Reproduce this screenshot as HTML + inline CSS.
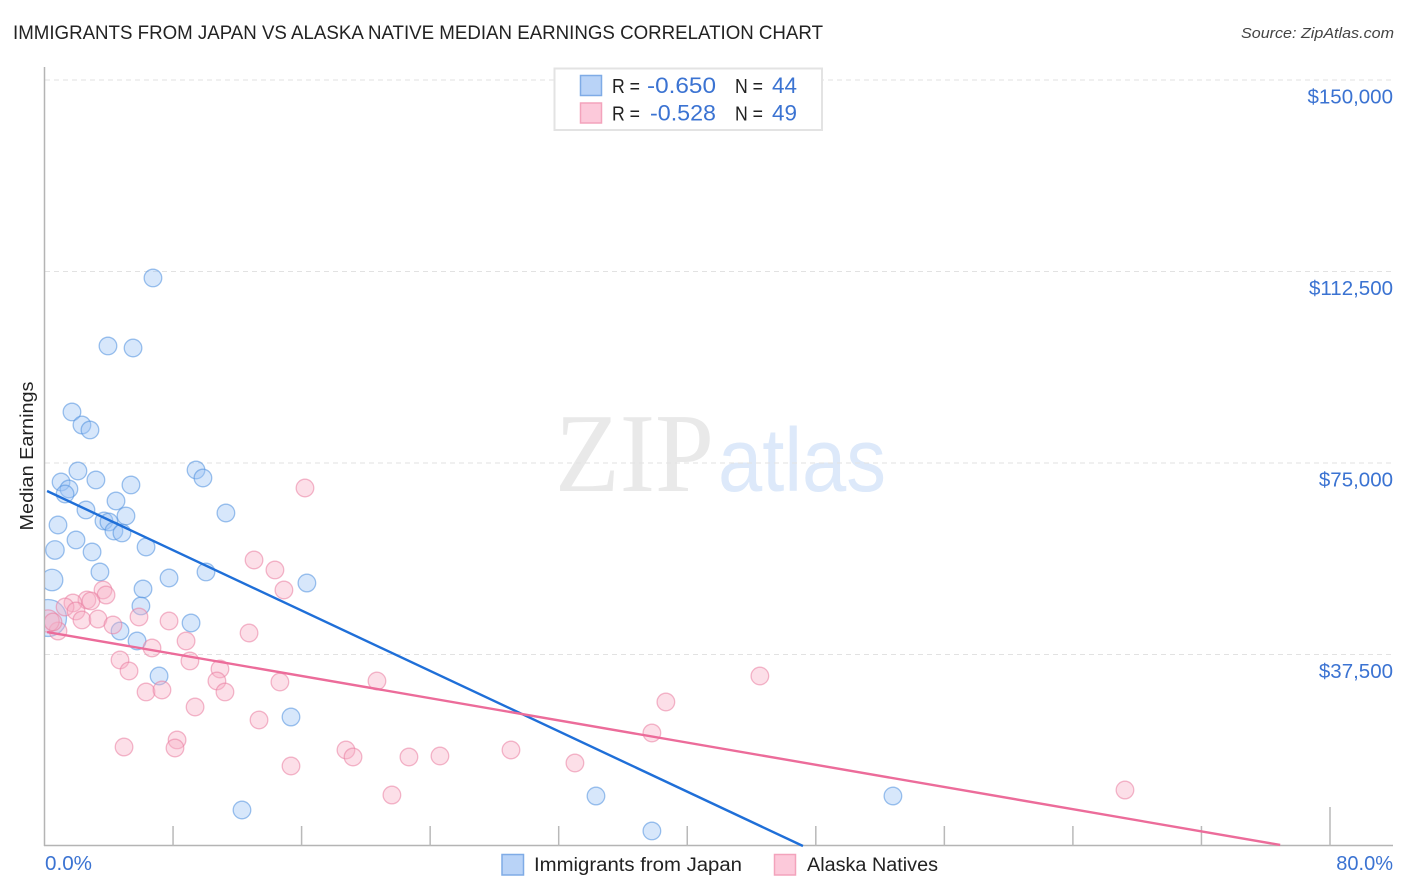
<!DOCTYPE html>
<html lang="en">
<head>
<meta charset="utf-8">
<title>Immigrants from Japan vs Alaska Native Median Earnings Correlation Chart</title>
<style>
html,body{margin:0;padding:0;background:#fff;}
svg{display:block;font-family:"Liberation Sans",sans-serif;}
</style>
</head>
<body>
<svg id="chart" xmlns="http://www.w3.org/2000/svg" width="1406" height="892" viewBox="0 0 1406 892">
  <defs><clipPath id="plot-clip"><rect x="45" y="60" width="1350" height="786"/></clipPath></defs>
  <text x="13" y="39" font-size="19.5" fill="#222" textLength="810" lengthAdjust="spacingAndGlyphs">IMMIGRANTS FROM JAPAN VS ALASKA NATIVE MEDIAN EARNINGS CORRELATION CHART</text>
  <text x="1241" y="38" font-size="15" font-style="italic" fill="#444" textLength="153" lengthAdjust="spacingAndGlyphs">Source: ZipAtlas.com</text>
  <g>
    <text x="555" y="491" font-family="'Liberation Serif',serif" font-size="112" fill="#e9e9e9" textLength="159" lengthAdjust="spacingAndGlyphs">ZIP</text>
    <text x="718" y="491" font-size="90" fill="#dde9fa" textLength="168" lengthAdjust="spacingAndGlyphs">atlas</text>
  </g>
  <g id="grid"></g>
  <g id="axes"></g>
  <text transform="translate(33,456) rotate(-90)" text-anchor="middle" font-size="18.5" fill="#222" textLength="149" lengthAdjust="spacingAndGlyphs">Median Earnings</text>
  <g id="points" clip-path="url(#plot-clip)"></g>
  <g id="trends"></g>
  <g>
    <rect x="554.5" y="68.5" width="267.5" height="61.5" fill="#fff" stroke="#e3e3e3" stroke-width="2"/>
    <rect x="580.5" y="75.5" width="21" height="20" fill="#b9d3f7" stroke="#7fabe6" stroke-width="1.5"/>
    <rect x="580.5" y="103" width="21" height="20" fill="#fcc9da" stroke="#f3a3bc" stroke-width="1.5"/>
    <text x="612" y="93" font-size="20" fill="#222" textLength="28" lengthAdjust="spacingAndGlyphs">R =</text>
    <text x="647" y="93" font-size="22" fill="#3b73d2" textLength="69" lengthAdjust="spacingAndGlyphs">-0.650</text>
    <text x="735" y="93" font-size="20" fill="#222" textLength="28" lengthAdjust="spacingAndGlyphs">N =</text>
    <text x="772" y="93" font-size="22" fill="#3b73d2" textLength="25" lengthAdjust="spacingAndGlyphs">44</text>
    <text x="612" y="120.5" font-size="20" fill="#222" textLength="28" lengthAdjust="spacingAndGlyphs">R =</text>
    <text x="650" y="120.5" font-size="22" fill="#3b73d2" textLength="66" lengthAdjust="spacingAndGlyphs">-0.528</text>
    <text x="735" y="120.5" font-size="20" fill="#222" textLength="28" lengthAdjust="spacingAndGlyphs">N =</text>
    <text x="772" y="120.5" font-size="22" fill="#3b73d2" textLength="25" lengthAdjust="spacingAndGlyphs">49</text>
  </g>
  <g>
    <rect x="502" y="854.5" width="21.5" height="20.5" fill="#b9d3f7" stroke="#7fabe6" stroke-width="1.5"/>
    <text x="534" y="871" font-size="19" fill="#222" textLength="208" lengthAdjust="spacingAndGlyphs">Immigrants from Japan</text>
    <rect x="774.5" y="854.5" width="21" height="20.5" fill="#fcc9da" stroke="#f3a3bc" stroke-width="1.5"/>
    <text x="807" y="871" font-size="19" fill="#222" textLength="131" lengthAdjust="spacingAndGlyphs">Alaska Natives</text>
  </g>
</svg>
<script>
var yTickValues = [150000, 112500, 75000, 37500];
var yTickLabels = ["$150,000", "$112,500", "$75,000", "$37,500"];
var xTickValues = [8, 16, 24, 32, 40, 48, 56, 64, 72, 80];
var xEndLabels = ["0.0%", "80.0%"];

var japanX = [6.75,3.95,5.51,1.71,2.33,2.83,2.08,9.43,9.86,1.03,1.52,1.28,3.20,5.38,4.45,2.58,11.29,5.07,3.70,4.01,4.32,4.82,0.84,1.96,6.32,2.96,0.65,3.45,10.05,7.75,16.33,6.13,0.47,6.00,9.12,4.70,5.76,7.13,15.34,12.29,34.32,37.80,52.80,0.22];
var japanY = [111230,97915,97520,84990,82440,81465,73435,73630,72065,71280,69910,68930,71675,70695,67560,65800,65210,64625,63645,63450,61685,61295,62860,59925,58550,57575,57965,53660,53660,52480,51500,50330,52090,47000,43670,42100,40145,33290,25260,7050,9790,2940,9790,44650];
var japanWeight = [1,1,1,1,1,1,1,1,1,1,1,1,1,1,1,1,1,1,1,1,1,1,1,1,1,1,1.1,1,1,1,1,1,1.5,1,1,1,1,1,1,1,1,1,1,4.4];

var alaskaX = [16.21,13.04,14.34,14.90,3.64,3.83,2.64,2.89,1.77,1.28,1.96,2.33,3.33,4.26,5.88,7.75,0.84,0.22,0.53,8.81,12.73,6.69,4.70,5.26,9.05,10.92,10.73,11.23,14.65,6.32,7.31,9.37,20.69,44.52,38.67,37.80,13.35,8.25,4.95,8.12,18.76,19.20,22.68,24.61,29.03,33.01,15.34,21.62,67.24];
var alaskaY = [70105,56005,54050,50130,50130,49150,48175,47980,47590,46800,46020,44260,44450,43280,44845,44060,42100,44060,43865,40145,41710,38775,36425,34270,36230,34660,32310,30160,32115,30160,30550,27220,32310,33290,28200,22130,24675,20760,19385,19190,18800,17430,17430,17625,18800,16255,15665,9985,10965];
var alaskaWeight = [1,1,1,1,1,1,1,1,1,1,1,1,1,1,1,1,1,1.6,1,1,1,1,1,1,1,1,1,1,1,1,1,1,1,1,1,1,1,1,1,1,1,1,1,1,1,1,1,1,1];

var japanTrendX = [0.16, 47.2];
var japanTrendY = [69520, 0];
var alaskaTrendX = [0.16, 76.9];
var alaskaTrendY = [41900, 200];

var NS = "http://www.w3.org/2000/svg";
function xScale(v) { return 44.5 + v * (1285.5 / 80); }
function yScale(v) { return 846 - v * (191.5 / 37500); }
function make(tag, attrs, parent) {
  var el = document.createElementNS(NS, tag);
  for (var k in attrs) { el.setAttribute(k, attrs[k]); }
  parent.appendChild(el);
  return el;
}

var grid = document.getElementById("grid");
var axes = document.getElementById("axes");
var points = document.getElementById("points");
var trends = document.getElementById("trends");

yTickValues.forEach(function (v, i) {
  var line = make("line", {x1: 45, x2: 1393, y1: yScale(v), y2: yScale(v), stroke: "#e2e2e2", "stroke-width": 1, "stroke-dasharray": "5 4"}, grid);
  
  
  var label = make("text", {x: 1393, y: yScale(v) + 23.5, "text-anchor": "end", "font-size": 20.5, fill: "#3b73d2"}, axes);
  
  
  label.textContent = yTickLabels[i];
});

var yAxis = make("line", {x1: 44.5, x2: 44.5, y1: 67, y2: 846, stroke: "#b4b4b4", "stroke-width": 1.5}, axes);


var xAxis = make("line", {x1: 44, x2: 1393, y1: 845.5, y2: 845.5, stroke: "#b4b4b4", "stroke-width": 1.5}, axes);



xTickValues.forEach(function (v, i) {
  var top = i === xTickValues.length - 1 ? 807 : 826;
  var tick = make("line", {x1: xScale(v), x2: xScale(v), y1: top, y2: 846, stroke: "#b9b9b9", "stroke-width": 1.5}, axes);
  
  
});

var xStart = make("text", {x: 45, y: 870, "font-size": 20, fill: "#3b73d2", textLength: 47, lengthAdjust: "spacingAndGlyphs"}, axes);


xStart.textContent = xEndLabels[0];
var xEnd = make("text", {x: 1393, y: 870, "text-anchor": "end", "font-size": 20, fill: "#3b73d2"}, axes);


xEnd.textContent = xEndLabels[1];

function drawPoints(xs, ys, ws, fill, stroke, name) {
  xs.forEach(function (x, i) {
    var c = make("circle", {cx: xScale(x), cy: yScale(ys[i]), r: 8.8 * Math.sqrt(ws[i]), fill: fill, "fill-opacity": 0.4, stroke: stroke, "stroke-opacity": 0.55, "stroke-width": 1.3}, points);
    
    
  });
}
drawPoints(japanX, japanY, japanWeight, "#9ac2f4", "#4f8fdf", "japan-point");
drawPoints(alaskaX, alaskaY, alaskaWeight, "#f7b0c6", "#ea7ea1", "alaska-point");

var trendJapan = make("line", {x1: xScale(japanTrendX[0]), y1: yScale(japanTrendY[0]), x2: xScale(japanTrendX[1]), y2: yScale(japanTrendY[1]), stroke: "#1f6fd8", "stroke-width": 2.4}, trends);


var trendAlaska = make("line", {x1: xScale(alaskaTrendX[0]), y1: yScale(alaskaTrendY[0]), x2: xScale(alaskaTrendX[1]), y2: yScale(alaskaTrendY[1]), stroke: "#ec6c9a", "stroke-width": 2.4}, trends);


</script>
</body>
</html>
